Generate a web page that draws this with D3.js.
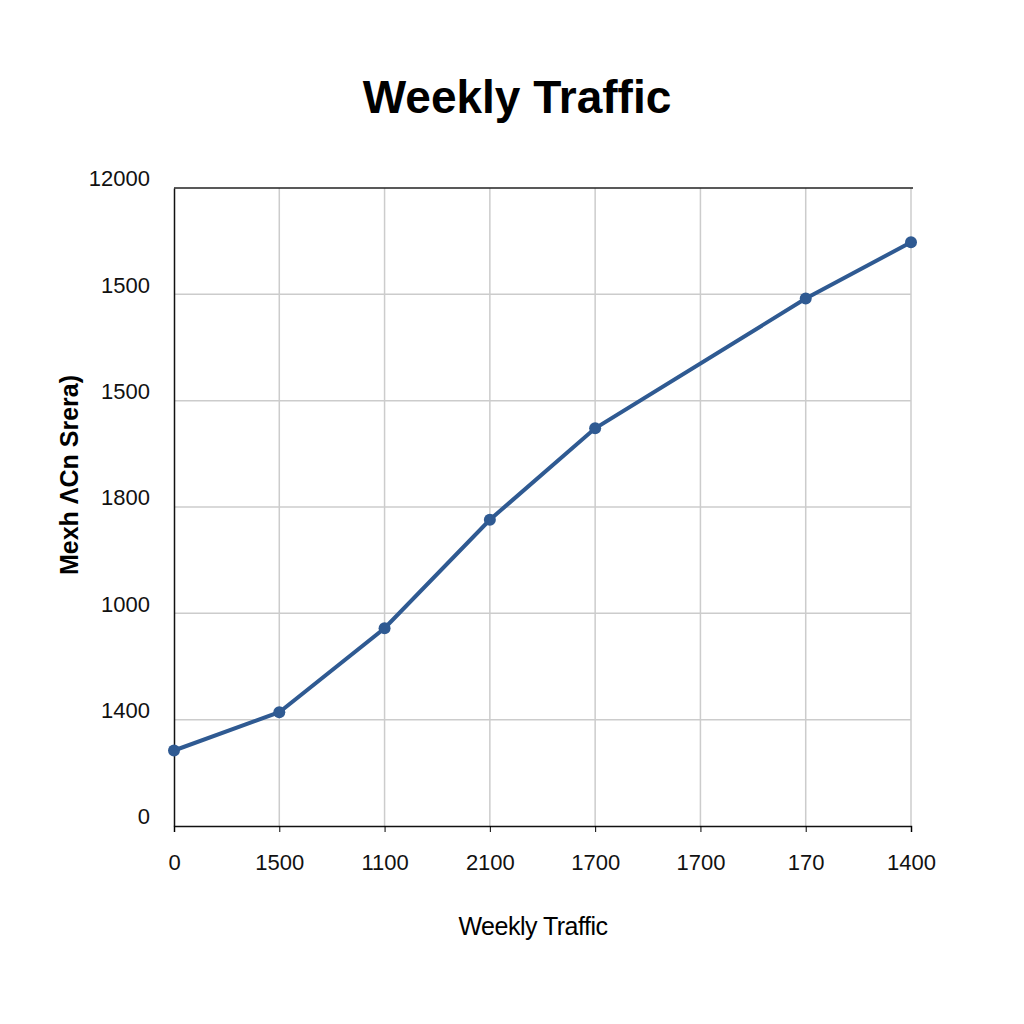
<!DOCTYPE html>
<html><head><meta charset="utf-8">
<script src="https://cdn.jsdelivr.net/npm/d3@7"></script>
<style>body{margin:0;background:#fff}</style></head>
<body><svg id="c" width="1024" height="1024"></svg>
<script>
const xTickLabels = ["0","1500","1100","2100","1700","1700","170","1400"];
const yTickLabels = ["0","1400","1000","1800","1500","1500","12000"];
const pointX = [0,1,2,3,4,6,7];
const pointY = [0.71,1.07,1.86,2.88,3.74,4.96,5.49];

const svg = d3.select("#c");
const L=174,R=911,T=188,B=826;
const x = d3.scaleLinear().domain([0,7]).range([L,R]);
const y = d3.scaleLinear().domain([0,6]).range([B,T]);

svg.append("text").attr("x",517).attr("y",113).attr("text-anchor","middle")
  .attr("font-family","Liberation Sans, Arial").attr("font-weight","bold").attr("font-size",46).text("Weekly Traffic");

const gx = svg.append("g").attr("transform",`translate(0,${B})`)
  .call(d3.axisBottom(x).tickValues(d3.range(8)).tickSize(6).tickFormat(i=>xTickLabels[i]));
gx.selectAll("text").attr("font-size",22).attr("font-family","Liberation Sans, Arial").attr("fill","#111").attr("dy","1.6em");
gx.select(".domain").attr("stroke","#111").attr("stroke-width",1.5);

const gy = svg.append("g").attr("transform",`translate(${L},0)`)
  .call(d3.axisLeft(y).tickValues(d3.range(7)).tickSize(0).tickPadding(24).tickFormat(i=>yTickLabels[i]));
gy.selectAll("text").attr("font-size",22).attr("font-family","Liberation Sans, Arial").attr("fill","#111").attr("dy","-0.1em");
gy.select(".domain").attr("stroke","#111").attr("stroke-width",1.5);

const grid = svg.insert("g",":first-child");
grid.selectAll(".h").data(d3.range(1,6)).join("line").attr("x1",L).attr("x2",R)
  .attr("y1",d=>y(d)).attr("y2",d=>y(d)).attr("stroke","#ccc").attr("stroke-width",1.5);
grid.selectAll(".v").data(d3.range(1,8)).join("line").attr("y1",T).attr("y2",B)
  .attr("x1",d=>x(d)).attr("x2",d=>x(d)).attr("stroke","#ccc").attr("stroke-width",1.5);
svg.append("line").attr("x1",L).attr("x2",R+2).attr("y1",T).attr("y2",T).attr("stroke","#222").attr("stroke-width",1.5);

const data = pointX.map((d,i)=>[d,pointY[i]]);
svg.append("path").datum(data).attr("fill","none").attr("stroke","#2f5a92").attr("stroke-width",4)
  .attr("d",d3.line().x(d=>x(d[0])).y(d=>y(d[1])));
svg.selectAll("circle.p").data(data).join("circle").attr("cx",d=>x(d[0])).attr("cy",d=>y(d[1]))
  .attr("r",6).attr("fill","#2f5a92");

svg.append("text").attr("x",533).attr("y",935).attr("text-anchor","middle")
  .attr("font-family","Liberation Sans, Arial").attr("font-size",25).attr("letter-spacing","-0.5").text("Weekly Traffic");
svg.append("text").attr("transform","translate(78,475) rotate(-90)").attr("text-anchor","middle")
  .attr("font-family","Liberation Sans, Arial").attr("font-size",25).attr("font-weight","bold").text("Mexh ΛCn Srera)");
</script></body></html>
